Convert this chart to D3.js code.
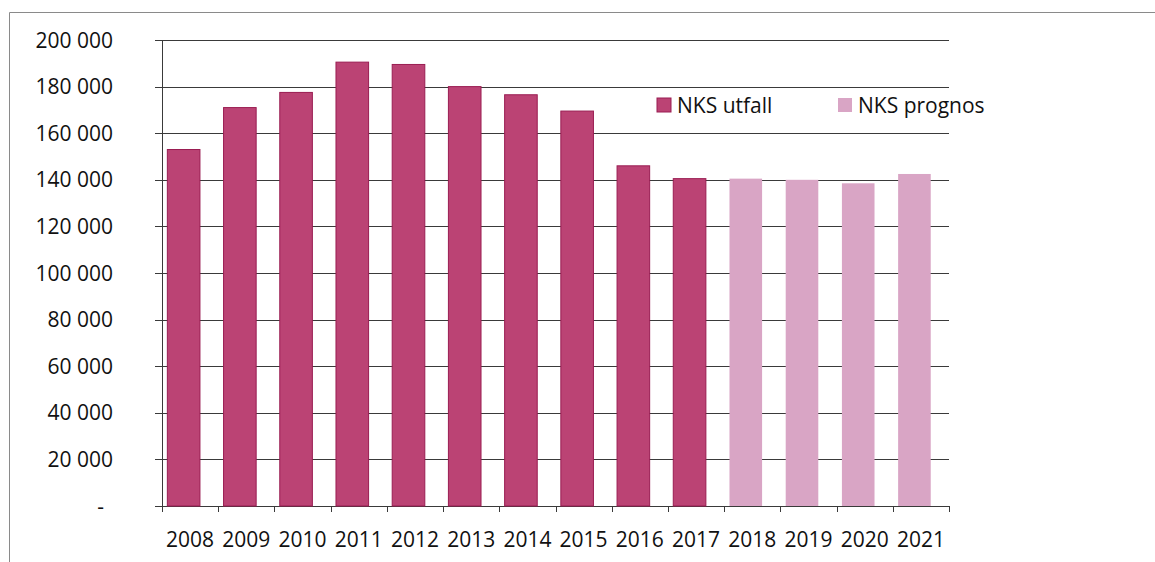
<!DOCTYPE html>
<html>
<head>
<meta charset="utf-8">
<script src="https://cdn.jsdelivr.net/npm/d3@7"></script>
<style>
  body { margin: 0; background: #fff; }
  svg { display: block; font-family: "Open Sans", sans-serif; }
</style>
</head>
<body>
<div id="chart"></div>
<script>
// -- DATA -- //
const years = ["2008","2009","2010","2011","2012","2013","2014","2015","2016","2017","2018","2019","2020","2021"];
const utfall = [153000, 171000, 177500, 190500, 189500, 180000, 176500, 169500, 146000, 140500, null, null, null, null];
const prognos = [null, null, null, null, null, null, null, null, null, null, 140500, 140000, 138500, 142500];
const yTicks = [0, 20000, 40000, 60000, 80000, 100000, 120000, 140000, 160000, 180000, 200000];
const seriesNames = ["NKS utfall", "NKS prognos"];
const colors = ["#bb4374", "#d9a5c5"];

var width = 1155;
var height = 562;
var margin = { top: 40, right: 206, bottom: 56, left: 162 };

let drawChart = () => {
    const svg = d3.select("#chart")
        .append("svg")
        .attr("width", width)
        .attr("height", height)

    // outer frame (top and left edges only)
    svg.append("path")
        .attr("d", "M9.5," + height + "V12.5H" + width)
        .attr("fill", "none")
        .attr("stroke", "#8a8a8a")
        .attr("stroke-width", 1)

    // category scale (no padding) -> bars sit a bit left inside each slot
    var x = d3.scaleBand()
        .domain(years)
        .range([margin.left, width - margin.right])

    var barOffset = x.bandwidth() * 0.095
    var barWidth = x.bandwidth() * 0.58

    var y = d3.scaleLinear()
        .domain([0, 200000])
        .range([height - margin.bottom, margin.top])

    // gridlines
    svg.append("g")
        .selectAll("line")
        .data(yTicks)
        .enter()
        .append("line")
        .attr("x1", margin.left - 7)
        .attr("x2", width - margin.right)
        .attr("y1", d => Math.round(y(d)) + 0.5)
        .attr("y2", d => Math.round(y(d)) + 0.5)
        .attr("stroke", "#3a3a3a")
        .attr("stroke-width", 1)

    // y labels
    svg.append("g")
        .selectAll("text")
        .data(yTicks)
        .enter()
        .append("text")
        .attr("x", d => d === 0 ? 104 : 113)
        .attr("y", d => y(d))
        .attr("dy", "0.36em")
        .attr("text-anchor", "end")
        .attr("font-size", 21)
        .attr("fill", "#111")
        .text(d => d === 0 ? "-" : d3.format(",")(d).replace(/,/g, " "))

    // bars
    const bars = svg.append("g")
    bars.selectAll("rect.utfall")
        .data(years.map((yr, i) => ({ yr: yr, v: utfall[i] })).filter(d => d.v !== null))
        .enter()
        .append("rect")
        .attr("class", "utfall")
        .attr("x", d => x(d.yr) + barOffset)
        .attr("y", d => y(d.v))
        .attr("width", barWidth)
        .attr("height", d => y(0) - y(d.v))
        .attr("fill", colors[0])
        .attr("stroke", "#9a1d52")
        .attr("stroke-width", 1)

    bars.selectAll("rect.prognos")
        .data(years.map((yr, i) => ({ yr: yr, v: prognos[i] })).filter(d => d.v !== null))
        .enter()
        .append("rect")
        .attr("class", "prognos")
        .attr("x", d => x(d.yr) + barOffset)
        .attr("y", d => y(d.v))
        .attr("width", barWidth)
        .attr("height", d => y(0) - y(d.v))
        .attr("fill", colors[1])

    // y axis line
    svg.append("line")
        .attr("x1", margin.left + 0.5)
        .attr("x2", margin.left + 0.5)
        .attr("y1", margin.top)
        .attr("y2", y(0) + 6)
        .attr("stroke", "#3a3a3a")

    // x axis ticks at category boundaries
    const bounds = years.map(d => x(d)).concat([width - margin.right])
    svg.append("g")
        .selectAll("line")
        .data(bounds)
        .enter()
        .append("line")
        .attr("x1", d => Math.round(d) + 0.5)
        .attr("x2", d => Math.round(d) + 0.5)
        .attr("y1", y(0))
        .attr("y2", y(0) + 6)
        .attr("stroke", "#3a3a3a")

    // x labels
    svg.append("g")
        .selectAll("text")
        .data(years)
        .enter()
        .append("text")
        .attr("x", d => x(d) + x.bandwidth() / 2)
        .attr("y", 547)
        .attr("text-anchor", "middle")
        .attr("font-size", 21)
        .attr("fill", "#111")
        .text(d => d)

    // legend
    const legendX = [657, 838]
    const legend = svg.append("g")
        .selectAll("g")
        .data(seriesNames)
        .enter()
        .append("g")
        .attr("transform", (d, i) => "translate(" + legendX[i] + ",98)")
    legend.append("rect")
        .attr("width", 14)
        .attr("height", 14)
        .attr("fill", (d, i) => colors[i])
        .attr("stroke", (d, i) => i === 0 ? "#9a1d52" : "none")
    legend.append("text")
        .attr("x", 20)
        .attr("y", 7)
        .attr("dy", "0.36em")
        .attr("font-size", 21)
        .attr("fill", "#111")
        .text(d => d)
}

drawChart()
</script>
</body>
</html>
